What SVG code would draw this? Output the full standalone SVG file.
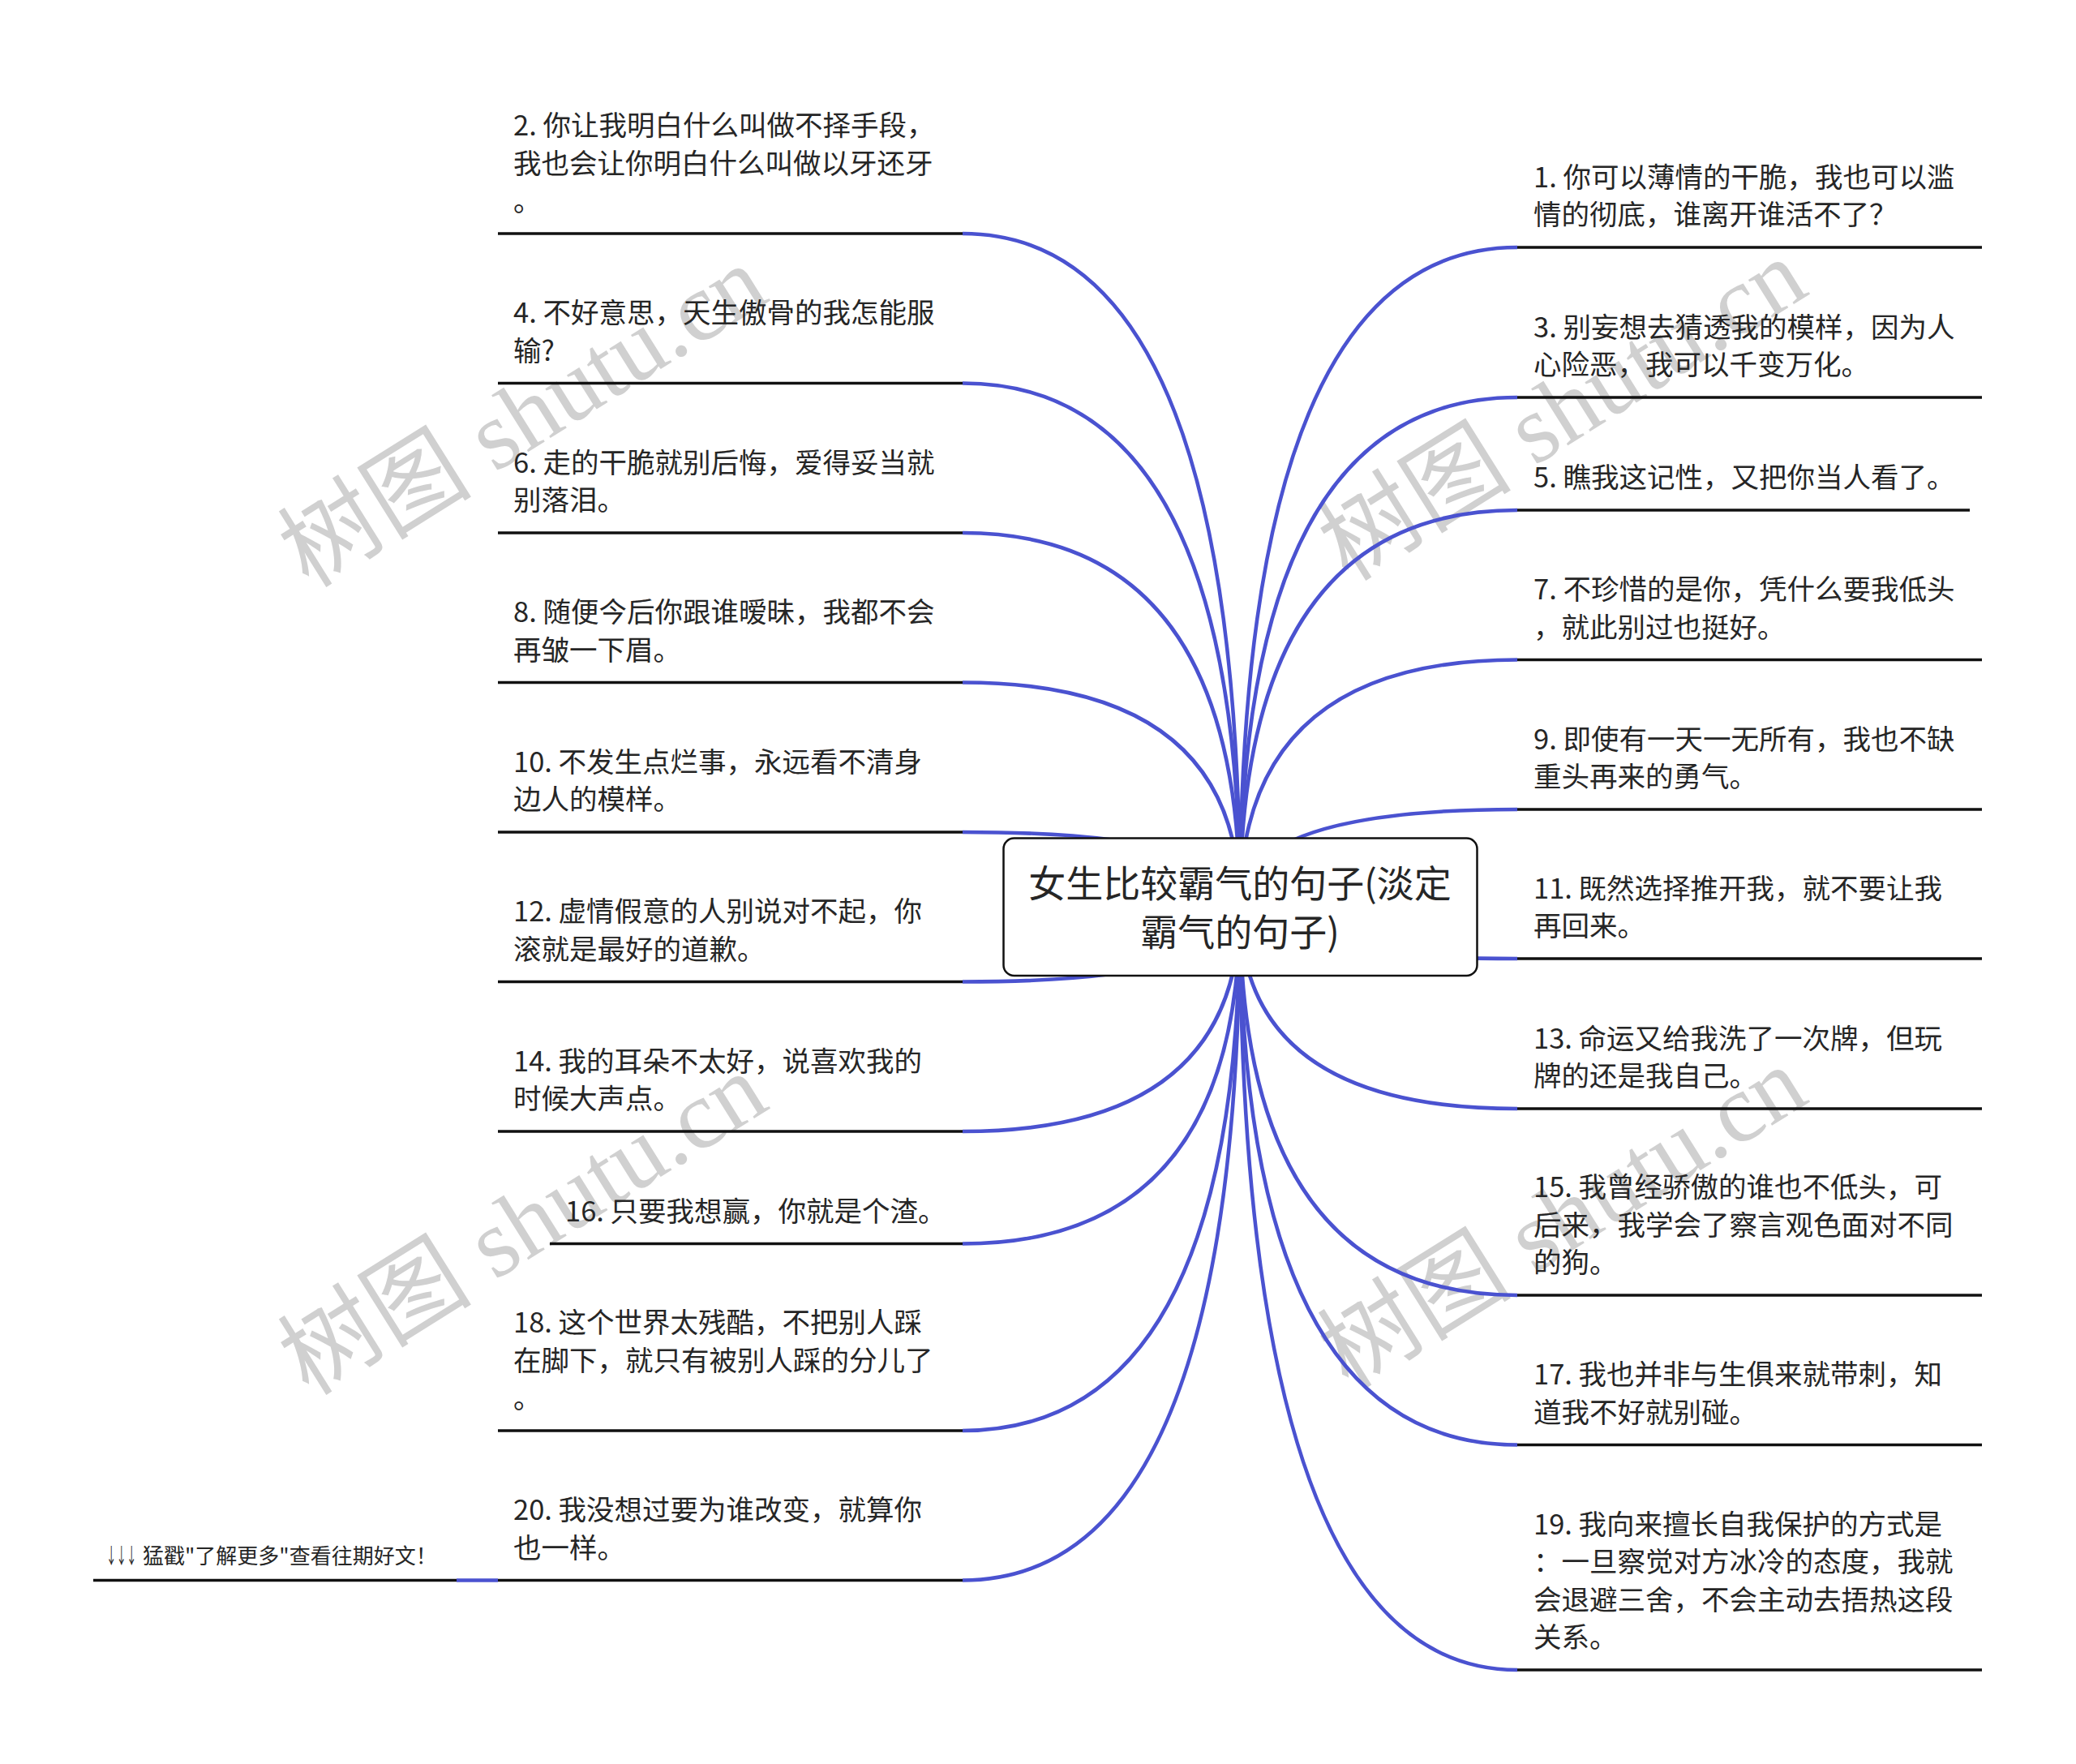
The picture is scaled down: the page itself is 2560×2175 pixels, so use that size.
<svg xmlns="http://www.w3.org/2000/svg" width="2560" height="2175" viewBox="0 0 2560 2175">
<style>
.t{font-family:"Noto Sans CJK SC","Noto Sans",sans-serif;font-size:34.5px;fill:#262626}
.c{font-family:"Noto Sans CJK SC","Noto Sans",sans-serif;font-size:46px;fill:#262626;text-anchor:middle}
.f{font-family:"Noto Sans CJK SC","Noto Sans",sans-serif;font-size:26px;fill:#262626}
.u{stroke:#111;stroke-width:3.4;fill:none}
.e{stroke:#4A52D0;stroke-width:4.6;fill:none}
.w{font-family:"Liberation Serif","Noto Sans CJK SC",serif;font-size:120px;fill:#d0d0d0;text-anchor:middle}
</style>
<rect width="2560" height="2175" fill="#fff"/>
<g id="watermarks">
<text class="w" transform="translate(645,514) rotate(-32)" y="40">树图 shutu.cn</text>
<text class="w" transform="translate(1927,506) rotate(-32)" y="40">树图 shutu.cn</text>
<text class="w" transform="translate(645,1510) rotate(-32)" y="40">树图 shutu.cn</text>
<text class="w" transform="translate(1927,1502) rotate(-32)" y="40">树图 shutu.cn</text>
</g>
<g id="connectors">
<path class="e" d="M1529 1118 Q1529 288 1187 288"/>
<path class="e" d="M1529 1118 Q1529 472.5 1187 472.5"/>
<path class="e" d="M1529 1118 Q1529 657 1187 657"/>
<path class="e" d="M1529 1118 Q1529 841.5 1187 841.5"/>
<path class="e" d="M1529 1118 Q1529 1026 1187 1026"/>
<path class="e" d="M1529 1118 Q1529 1210.5 1187 1210.5"/>
<path class="e" d="M1529 1118 Q1529 1395 1187 1395"/>
<path class="e" d="M1529 1118 Q1529 1533.5 1187 1533.5"/>
<path class="e" d="M1529 1118 Q1529 1764 1187 1764"/>
<path class="e" d="M1529 1118 Q1529 1948.5 1187 1948.5"/>
<path class="e" d="M1529 1118 Q1529 305 1871 305"/>
<path class="e" d="M1529 1118 Q1529 490 1871 490"/>
<path class="e" d="M1529 1118 Q1529 629 1871 629"/>
<path class="e" d="M1529 1118 Q1529 813.5 1871 813.5"/>
<path class="e" d="M1529 1118 Q1529 998 1871 998"/>
<path class="e" d="M1529 1118 Q1529 1182 1871 1182"/>
<path class="e" d="M1529 1118 Q1529 1367 1871 1367"/>
<path class="e" d="M1529 1118 Q1529 1597 1871 1597"/>
<path class="e" d="M1529 1118 Q1529 1781.5 1871 1781.5"/>
<path class="e" d="M1529 1118 Q1529 2059 1871 2059"/>
<path class="e" d="M614 1948.5 L563 1948.5"/>
</g>
<g id="center">
<rect x="1237.5" y="1033.5" width="584" height="169.5" rx="13" fill="#fff" stroke="#111" stroke-width="2.5"/>
<text class="c" x="1529" y="1106">女生比较霸气的句子(淡定</text>
<text class="c" x="1529" y="1166">霸气的句子)</text>
</g>
<g id="n2"><text class="t" x="633" y="167"><tspan x="633">2. 你让我明白什么叫做不择手段，</tspan><tspan x="633" dy="46.5">我也会让你明白什么叫做以牙还牙</tspan><tspan x="633" dy="46.5">。</tspan></text><path class="u" d="M614 288H1187"/></g>
<g id="n4"><text class="t" x="633" y="398"><tspan x="633">4. 不好意思，天生傲骨的我怎能服</tspan><tspan x="633" dy="46.5">输?</tspan></text><path class="u" d="M614 472.5H1187"/></g>
<g id="n6"><text class="t" x="633" y="582.5"><tspan x="633">6. 走的干脆就别后悔，爱得妥当就</tspan><tspan x="633" dy="46.5">别落泪。</tspan></text><path class="u" d="M614 657H1187"/></g>
<g id="n8"><text class="t" x="633" y="767"><tspan x="633">8. 随便今后你跟谁暧昧，我都不会</tspan><tspan x="633" dy="46.5">再皱一下眉。</tspan></text><path class="u" d="M614 841.5H1187"/></g>
<g id="n10"><text class="t" x="633" y="951.5"><tspan x="633">10. 不发生点烂事，永远看不清身</tspan><tspan x="633" dy="46.5">边人的模样。</tspan></text><path class="u" d="M614 1026H1187"/></g>
<g id="n12"><text class="t" x="633" y="1136"><tspan x="633">12. 虚情假意的人别说对不起，你</tspan><tspan x="633" dy="46.5">滚就是最好的道歉。</tspan></text><path class="u" d="M614 1210.5H1187"/></g>
<g id="n14"><text class="t" x="633" y="1320.5"><tspan x="633">14. 我的耳朵不太好，说喜欢我的</tspan><tspan x="633" dy="46.5">时候大声点。</tspan></text><path class="u" d="M614 1395H1187"/></g>
<g id="n16"><text class="t" x="697" y="1505.5">16. 只要我想赢，你就是个渣。</text><path class="u" d="M678 1533.5H1187"/></g>
<g id="n18"><text class="t" x="633" y="1643"><tspan x="633">18. 这个世界太残酷，不把别人踩</tspan><tspan x="633" dy="46.5">在脚下，就只有被别人踩的分儿了</tspan><tspan x="633" dy="46.5">。</tspan></text><path class="u" d="M614 1764H1187"/></g>
<g id="n20"><text class="t" x="633" y="1874"><tspan x="633">20. 我没想过要为谁改变，就算你</tspan><tspan x="633" dy="46.5">也一样。</tspan></text><path class="u" d="M614 1948.5H1187"/></g>
<g id="footer"><text class="f" transform="translate(131,1928) scale(0.48,1)">↓↓↓</text><text class="f" x="176" y="1928">猛戳"了解更多"查看往期好文！</text><path class="u" d="M115 1948.5H563"/></g>
<g id="n1"><text class="t" x="1891" y="230.5"><tspan x="1891">1. 你可以薄情的干脆，我也可以滥</tspan><tspan x="1891" dy="46.5">情的彻底，谁离开谁活不了？</tspan></text><path class="u" d="M1871 305H2444"/></g>
<g id="n3"><text class="t" x="1891" y="415.5"><tspan x="1891">3. 别妄想去猜透我的模样，因为人</tspan><tspan x="1891" dy="46.5">心险恶，我可以千变万化。</tspan></text><path class="u" d="M1871 490H2444"/></g>
<g id="n5"><text class="t" x="1891" y="601">5. 瞧我这记性，又把你当人看了。</text><path class="u" d="M1871 629H2429"/></g>
<g id="n7"><text class="t" x="1891" y="739"><tspan x="1891">7. 不珍惜的是你，凭什么要我低头</tspan><tspan x="1891" dy="46.5">，就此别过也挺好。</tspan></text><path class="u" d="M1871 813.5H2444"/></g>
<g id="n9"><text class="t" x="1891" y="923.5"><tspan x="1891">9. 即使有一天一无所有，我也不缺</tspan><tspan x="1891" dy="46.5">重头再来的勇气。</tspan></text><path class="u" d="M1871 998H2444"/></g>
<g id="n11"><text class="t" x="1891" y="1107.5"><tspan x="1891">11. 既然选择推开我，就不要让我</tspan><tspan x="1891" dy="46.5">再回来。</tspan></text><path class="u" d="M1871 1182H2444"/></g>
<g id="n13"><text class="t" x="1891" y="1292.5"><tspan x="1891">13. 命运又给我洗了一次牌，但玩</tspan><tspan x="1891" dy="46.5">牌的还是我自己。</tspan></text><path class="u" d="M1871 1367H2444"/></g>
<g id="n15"><text class="t" x="1891" y="1476"><tspan x="1891">15. 我曾经骄傲的谁也不低头，可</tspan><tspan x="1891" dy="46.5">后来，我学会了察言观色面对不同</tspan><tspan x="1891" dy="46.5">的狗。</tspan></text><path class="u" d="M1871 1597H2444"/></g>
<g id="n17"><text class="t" x="1891" y="1707"><tspan x="1891">17. 我也并非与生俱来就带刺，知</tspan><tspan x="1891" dy="46.5">道我不好就别碰。</tspan></text><path class="u" d="M1871 1781.5H2444"/></g>
<g id="n19"><text class="t" x="1891" y="1891.5"><tspan x="1891">19. 我向来擅长自我保护的方式是</tspan><tspan x="1891" dy="46.5">：一旦察觉对方冰冷的态度，我就</tspan><tspan x="1891" dy="46.5">会退避三舍，不会主动去捂热这段</tspan><tspan x="1891" dy="46.5">关系。</tspan></text><path class="u" d="M1871 2059H2444"/></g>
</svg>
